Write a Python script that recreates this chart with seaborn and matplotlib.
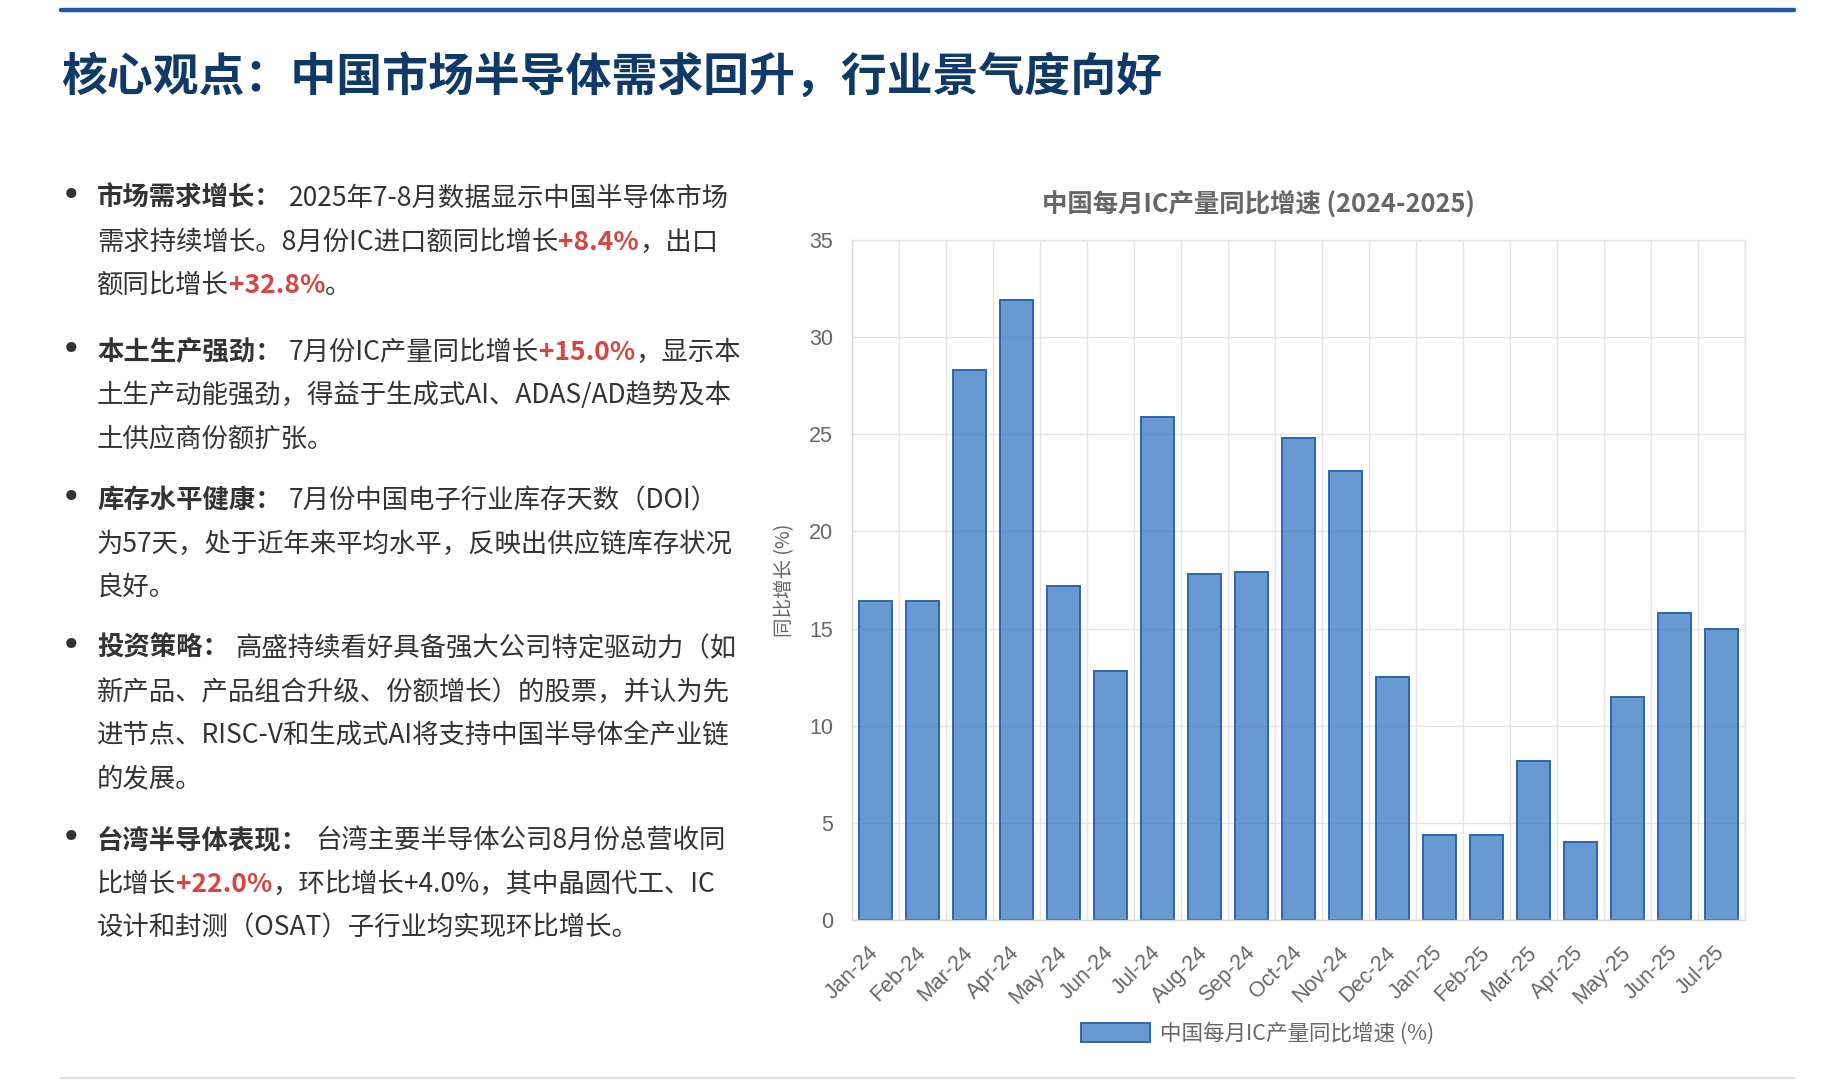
import numpy as np
import matplotlib
matplotlib.use("Agg")
import matplotlib.pyplot as plt
import seaborn as sns
from matplotlib.lines import Line2D
from matplotlib.patches import Patch
from matplotlib.colors import to_rgba

# ---- data ----
months = ["Jan-24", "Feb-24", "Mar-24", "Apr-24", "May-24", "Jun-24", "Jul-24",
          "Aug-24", "Sep-24", "Oct-24", "Nov-24", "Dec-24", "Jan-25", "Feb-25",
          "Mar-25", "Apr-25", "May-25", "Jun-25", "Jul-25"]
growth = [16.4, 16.4, 28.3, 31.9, 17.2, 12.8, 25.9, 17.8, 17.9, 24.8, 23.1,
          12.5, 4.4, 4.4, 8.2, 4.0, 11.5, 15.8, 15.0]
yticks = [0, 5, 10, 15, 20, 25, 30, 35]

page_title = "核心观点：中国市场半导体需求回升，行业景气度向好"
chart_title = "中国每月IC产量同比增速 (2024-2025)"
y_label = "同比增长 (%)"
legend_label = "中国每月IC产量同比增速 (%)"

# text lines of each bullet: (text, kind) with b = bold label, n = normal, r = red number
bullet1 = [[("市场需求增长：", "b"), ("2025年7-8月数据显示中国半导体市场", "n")],
           [("需求持续增长。8月份IC进口额同比增长", "n"), ("+8.4%", "r"), ("，出口", "n")],
           [("额同比增长", "n"), ("+32.8%", "r"), ("。", "n")]]
bullet2 = [[("本土生产强劲：", "b"), ("7月份IC产量同比增长", "n"), ("+15.0%", "r"), ("，显示本", "n")],
           [("土生产动能强劲，得益于生成式AI、ADAS/AD趋势及本", "n")],
           [("土供应商份额扩张。", "n")]]
bullet3 = [[("库存水平健康：", "b"), ("7月份中国电子行业库存天数（DOI）", "n")],
           [("为57天，处于近年来平均水平，反映出供应链库存状况", "n")],
           [("良好。", "n")]]
bullet4 = [[("投资策略：", "b"), ("高盛持续看好具备强大公司特定驱动力（如", "n")],
           [("新产品、产品组合升级、份额增长）的股票，并认为先", "n")],
           [("进节点、RISC-V和生成式AI将支持中国半导体全产业链", "n")],
           [("的发展。", "n")]]
bullet5 = [[("台湾半导体表现：", "b"), ("台湾主要半导体公司8月份总营收同", "n")],
           [("比增长", "n"), ("+22.0%", "r"), ("，环比增长+4.0%，其中晶圆代工、IC", "n")],
           [("设计和封测（OSAT）子行业均实现环比增长。", "n")]]
bullets = [bullet1, bullet2, bullet3, bullet4, bullet5]

# ---- style ----
sns.set_theme(style="white")
CJK = ["Noto Sans CJK SC", "DejaVu Sans"]
plt.rcParams["font.family"] = CJK

W, H = 1843, 1080
GRID = "#e4e4e4"
BAR = "#3677c2"
EDGE = "#2a66b0"


def fx(x):
    return x / W


def fy(y):
    return 1 - y / H


fig = plt.figure(figsize=(W / 100, H / 100), dpi=100)
fig.patch.set_facecolor("white")

# top rule, page title, bottom rule
fig.add_artist(Line2D([fx(61), fx(1794)], [fy(9.5), fy(9.5)], color="#1b5aa0", lw=3.2))
fig.text(fx(61), fy(79), page_title, ha="left", va="center", fontsize=33,
         fontweight="bold", color="#0f3a68")
fig.add_artist(Line2D([fx(61), fx(1794)], [fy(1078), fy(1078)], color="#e0e0e0", lw=1.5))

# ---- bullet text on the left ----
renderer = fig.canvas.get_renderer()
styles = {"b": ("#333333", "bold"), "n": ("#333333", "normal"), "r": ("#d64541", "bold")}
block_tops = [196, 350, 498, 646, 838]
line_gap = 43.5
for top, lines in zip(block_tops, bullets):
    fig.text(fx(71), fy(top + 10), "•", ha="center", va="baseline", fontsize=25,
             color="#333333", family="DejaVu Sans")
    for i, segs in enumerate(lines):
        base = top + i * line_gap + 10
        x = 97
        for text, kind in segs:
            color, weight = styles[kind]
            t = fig.text(fx(x), fy(base), text, ha="left", va="baseline", fontsize=19,
                         color=color, fontweight=weight)
            x = t.get_window_extent(renderer).x1
            if kind == "b":
                x += 7

# ---- bar chart ----
ax = fig.add_axes([fx(852), fy(920), 893 / W, 680 / H])
sns.barplot(x=months, y=growth, ax=ax, color=BAR, width=0.72, saturation=1,
            edgecolor=EDGE, linewidth=1.4)
for p in ax.patches:
    p.set_facecolor(to_rgba(BAR, 0.75))

ax.set_xlim(-0.5, len(months) - 0.5)
ax.set_ylim(0, 35)
ax.set_yticks(yticks)
ax.set_xticks(np.arange(-0.5, len(months), 1), minor=True)
ax.set_axisbelow(True)
ax.grid(axis="y", which="major", color=GRID, lw=1.0)
ax.grid(axis="x", which="minor", color=GRID, lw=1.0)
ax.grid(axis="x", which="major", visible=False)
ax.tick_params(axis="x", which="major", length=0, pad=21.5, labelsize=15.5, labelcolor="#666666")
ax.tick_params(axis="x", which="minor", length=9.4, color=GRID, width=1)
ax.tick_params(axis="y", length=8.6, color=GRID, width=1, pad=5, labelsize=15.5, labelcolor="#666666")
for side in ["left", "bottom", "top", "right"]:
    ax.spines[side].set_color("#d8d8d8" if side in ("left", "bottom") else GRID)
    ax.spines[side].set_linewidth(1.0)

for lab in ax.get_xticklabels():
    lab.set_family("Liberation Sans")
    lab.set_rotation(45)
    lab.set_ha("right")
    lab.set_va("center")
    lab.set_rotation_mode("anchor")
for lab in ax.get_yticklabels():
    lab.set_family("Liberation Sans")

ax.set_xlabel("")
ax.set_ylabel(y_label, fontsize=14, color="#666666")
ax.yaxis.set_label_coords(-0.064, 0.5)

fig.text(fx(1258), fy(205), chart_title, ha="center", va="center", fontsize=18.3,
         fontweight="bold", color="#666666")

handle = Patch(facecolor=to_rgba(BAR, 0.75), edgecolor=EDGE, linewidth=1.4)
ax.legend(handles=[handle], labels=[legend_label], loc="center",
          bbox_to_anchor=(fx(1257.5), fy(1033.5)), bbox_transform=fig.transFigure,
          frameon=False, prop={"family": CJK, "size": 15.5}, labelcolor="#666666",
          handlelength=3.2, handleheight=1.0, handletextpad=0.45)

fig.savefig("out.png", dpi=100, facecolor="white")
